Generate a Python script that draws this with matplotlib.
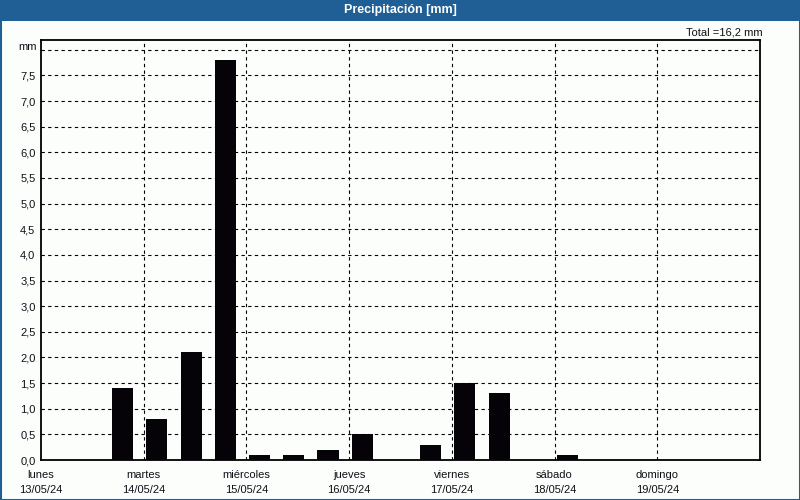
import numpy as np
import pandas as pd
import matplotlib
matplotlib.use('Agg')
import matplotlib.pyplot as plt
from matplotlib.patches import Rectangle
import matplotlib.transforms as mtransforms

plt.rcParams['font.family'] = ['Liberation Sans', 'DejaVu Sans']

# ---- data -------------------------------------------------------------
day_names = ['lunes', 'martes', 'miércoles', 'jueves', 'viernes', 'sábado', 'domingo']
day_dates = ['13/05/24', '14/05/24', '15/05/24', '16/05/24', '17/05/24', '18/05/24', '19/05/24']
# start of each 8-hour accumulation period
bin_start = ['2024-05-13 16:00', '2024-05-14 00:00', '2024-05-14 08:00', '2024-05-14 16:00',
             '2024-05-15 00:00', '2024-05-15 08:00', '2024-05-15 16:00', '2024-05-16 00:00',
             '2024-05-16 16:00', '2024-05-17 00:00', '2024-05-17 08:00', '2024-05-18 00:00']
rain_mm = [1.4, 0.8, 2.1, 7.8, 0.1, 0.1, 0.2, 0.5, 0.3, 1.5, 1.3, 0.1]
y_ticks = [0.0, 0.5, 1.0, 1.5, 2.0, 2.5, 3.0, 3.5, 4.0, 4.5, 5.0, 5.5, 6.0, 6.5, 7.0, 7.5]
#-----------------------------------------------------------------------

t0 = pd.Timestamp('2024-05-13 00:00')
x = np.array([(pd.Timestamp(s) - t0) / pd.Timedelta(days=1) for s in bin_start])
total = sum(rain_mm)

blue = '#1f5f95'
txtc = '#101018'
bg = '#fcfefc'

fig = plt.figure(figsize=(8, 5), dpi=100, facecolor=bg)
ax = fig.add_axes([41/800, 40/500, 719/800, 420/500], facecolor=bg)

# title bar + border
fig.patches.append(Rectangle((0, 479/500), 1, 21/500, transform=fig.transFigure,
                             facecolor=blue, edgecolor='none', zorder=0))
fig.patches.append(Rectangle((0.5/800, 0.5/500), 799/800, 499/500, transform=fig.transFigure,
                             facecolor='none', edgecolor=blue, linewidth=1.5, zorder=5))
fig.text(0.5, 489.5/500, 'Precipitación [mm]', color='white', fontsize=9,
         fontweight='bold', ha='center', va='center')

ax.bar(x + 0.025, rain_mm, width=0.205, align='edge', color='#050308', zorder=3)

ax.set_xlim(0, 7)
ax.set_ylim(0, 8.19)

ax.set_xticks(np.arange(len(day_names)))
ax.set_xticklabels([n + '\n' + d for n, d in zip(day_names, day_dates)],
                   fontsize=8, color=txtc, linespacing=1.6)
ax.set_yticks(y_ticks)
ax.set_yticklabels([('%.1f' % v).replace('.', ',') for v in y_ticks], fontsize=8, color=txtc)
ax.tick_params(axis='both', length=0)
ax.tick_params(axis='y', pad=4)
ax.tick_params(axis='x', pad=7)

# grid lines (dashed)
for v in y_ticks[1:] + [8.0]:
    ax.axhline(v, color='black', linewidth=0.8, linestyle=(0, (3, 3)), zorder=1)
for d in range(1, 7):
    ax.axvline(d, color='black', linewidth=0.8, linestyle=(0, (3, 3)), zorder=1)

for s in ax.spines.values():
    s.set_linewidth(1.3)
    s.set_color('black')

trans = mtransforms.blended_transform_factory(ax.transAxes, ax.transData)
ax.text(-4/719, 8.05, 'mm', transform=trans, ha='right', va='center', fontsize=8, color=txtc)
ax.text(1.003, 1.019, 'Total =' + ('%.1f' % total).replace('.', ',') + ' mm',
        transform=ax.transAxes, ha='right', va='center', fontsize=8, color=txtc)

plt.savefig('out.png', dpi=100, facecolor=bg)
